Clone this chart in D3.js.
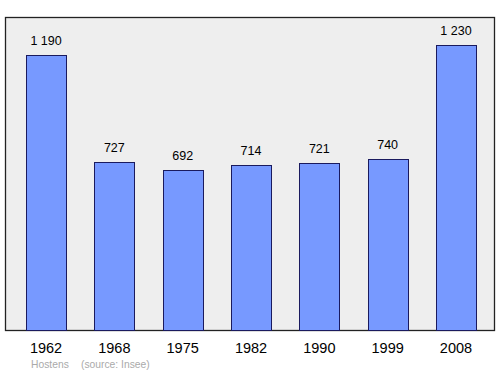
<!DOCTYPE html>
<html><head><meta charset="utf-8">
<script src="https://cdn.jsdelivr.net/npm/d3@7"></script>
<style>html,body{margin:0;padding:0;background:#fff;}svg{display:block;}</style>
</head><body>
<script>
const years = ["1962","1968","1975","1982","1990","1999","2008"];
const population = [1190, 727, 692, 714, 721, 740, 1230];
const labels = ["1 190","727","692","714","721","740","1 230"];
const commune = "Hostens";
const source = "(source: Insee)";

const W = 500, H = 374;
const svg = d3.select("body").append("svg").attr("width", W).attr("height", H);
const plot = {left: 5.5, top: 17.5, right: 494.5, bottom: 330.5};

svg.append("rect").attr("x", plot.left).attr("y", plot.top)
  .attr("width", plot.right - plot.left).attr("height", plot.bottom - plot.top)
  .attr("fill", "#eeeeee").attr("stroke", "#222").attr("stroke-width", 1.3);

const x = d3.scaleBand().domain(years).range([26, 476]).paddingInner(0.414).paddingOuter(0);
const y = d3.scaleLinear().domain([0, d3.max(population) * 1.1]).range([330, 17]);

svg.selectAll("rect.bar").data(years).enter().append("rect").attr("class", "bar")
  .attr("x", d => Math.round(x(d)) + 0.5)
  .attr("y", (d, i) => Math.round(y(population[i])) + 0.5)
  .attr("width", Math.round(x.bandwidth()))
  .attr("height", (d, i) => 330 - Math.round(y(population[i])))
  .attr("fill", "#7799ff").attr("stroke", "#1a1a5e").attr("stroke-width", 1);

svg.selectAll("text.val").data(years).enter().append("text").attr("class", "val")
  .attr("x", d => x(d) + x.bandwidth() / 2)
  .attr("y", (d, i) => y(population[i]) - 10)
  .attr("text-anchor", "middle")
  .attr("font-family", "Liberation Sans, Arial, sans-serif")
  .attr("font-size", 12.5).attr("fill", "#000")
  .text((d, i) => labels[i]);

const xAxis = svg.append("g").attr("transform", "translate(0,330)")
  .call(d3.axisBottom(x).tickSize(0).tickPadding(0));
xAxis.select(".domain").remove();
xAxis.selectAll("text").attr("y", 23).attr("dy", null)
  .attr("font-family", "Liberation Sans, Arial, sans-serif")
  .attr("font-size", 14.5).attr("fill", "#000");

svg.append("text").attr("x", 31).attr("y", 368)
  .attr("font-family", "Liberation Sans, Arial, sans-serif").attr("font-size", 10.3)
  .attr("fill", "#aaaaaa").text(commune);
svg.append("text").attr("x", 81).attr("y", 368)
  .attr("font-family", "Liberation Sans, Arial, sans-serif").attr("font-size", 10.3)
  .attr("fill", "#aaaaaa").text(source);
</script>
</body></html>
